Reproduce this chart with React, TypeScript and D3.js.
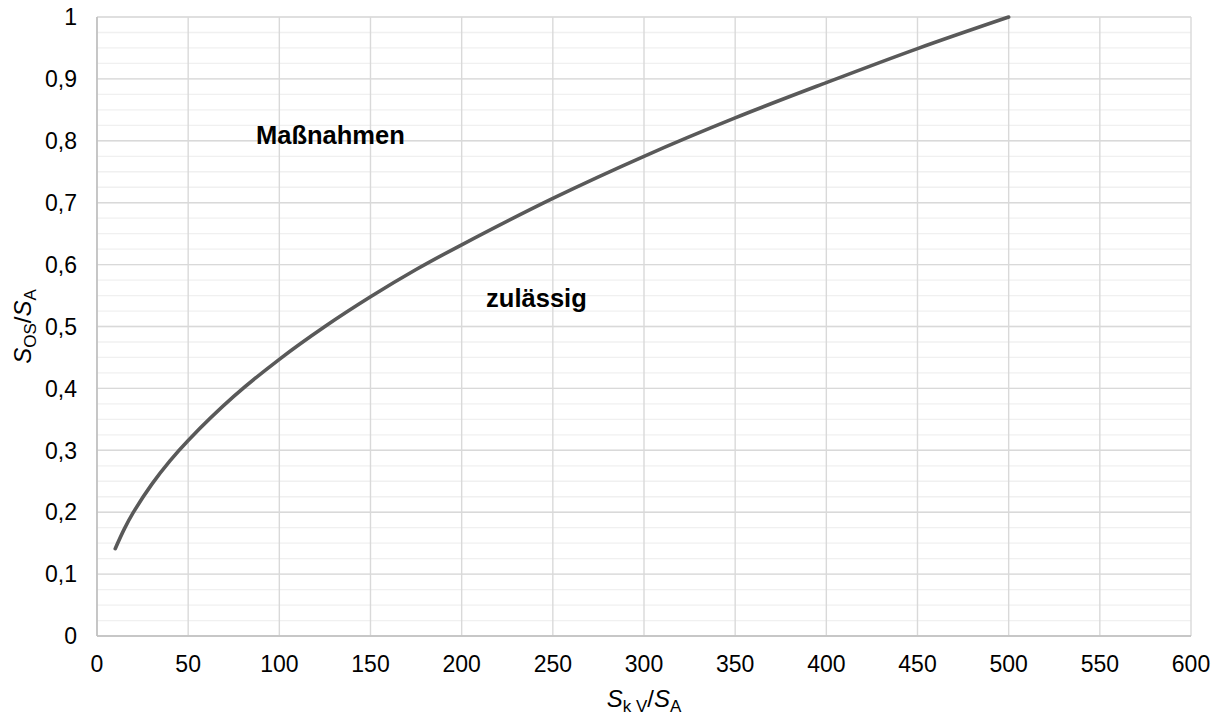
import React from "react";
import * as d3 from "d3";

const curveX = [10, 15, 20, 30, 40, 50, 75, 100, 125, 150, 175, 200, 250, 300, 350, 400, 450, 500];
const curveY = [0.141, 0.173, 0.2, 0.245, 0.283, 0.316, 0.387, 0.447, 0.5, 0.548, 0.592, 0.632, 0.707, 0.775, 0.837, 0.894, 0.949, 1.0];
const xTicks = [0, 50, 100, 150, 200, 250, 300, 350, 400, 450, 500, 550, 600];
const yTicks = [0, 0.1, 0.2, 0.3, 0.4, 0.5, 0.6, 0.7, 0.8, 0.9, 1];
const yMinorTicks = d3.range(0, 1.0001, 0.025);
const regionLabels = [
  { text: "Maßnahmen", x: 128, y: 0.795 },
  { text: "zulässig", x: 241, y: 0.531 },
];

const W = 1224, H = 720;
const left = 97, right = 1191, top = 17, bottom = 636;
const FONT = "'Liberation Sans', Arial, sans-serif";

export default function App() {
  const x = d3.scaleLinear().domain([0, 600]).range([left, right]);
  const y = d3.scaleLinear().domain([0, 1]).range([bottom, top]);
  const pts: [number, number][] = curveX.map((v, i) => [v, curveY[i]]);
  const line = d3.line<[number, number]>().x(d => x(d[0])).y(d => y(d[1])).curve(d3.curveCatmullRom);
  const fmt = (v: number) => String(Math.round(v * 10) / 10).replace(".", ",");
  return (
    <svg width={W} height={H} style={{ position: "absolute", left: 0, top: 0, background: "#fff" }} fontFamily={FONT}>
      <rect width={W} height={H} fill="#fff" />
      {yMinorTicks.map((t, i) => (
        <line key={"m" + i} x1={left} x2={right} y1={y(t)} y2={y(t)} stroke="#f0f0f0" strokeWidth={1.3} />
      ))}
      {yTicks.map((t, i) => (
        <line key={"y" + i} x1={left} x2={right} y1={y(t)} y2={y(t)} stroke="#d9d9d9" strokeWidth={1.4} />
      ))}
      {xTicks.map((t, i) => (
        <line key={"x" + i} x1={x(t)} x2={x(t)} y1={top} y2={bottom} stroke="#d9d9d9" strokeWidth={1.4} />
      ))}
      <line x1={left} x2={left} y1={top} y2={bottom} stroke="#bfbfbf" strokeWidth={1.6} />
      <line x1={left} x2={right} y1={bottom} y2={bottom} stroke="#bfbfbf" strokeWidth={1.6} />
      <path d={line(pts) || ""} fill="none" stroke="#595959" strokeWidth={3.6} strokeLinecap="round" />
      {yTicks.map((t, i) => (
        <text key={"yl" + i} x={77} y={y(t)} dy="0.36em" textAnchor="end" fontSize={23} fill="#000">{fmt(t)}</text>
      ))}
      {xTicks.map((t, i) => (
        <text key={"xl" + i} x={x(t)} y={672} textAnchor="middle" fontSize={23} fill="#000">{t}</text>
      ))}
      {regionLabels.map((l, i) => (
        <text key={"r" + i} x={x(l.x)} y={y(l.y)} textAnchor="middle" fontSize={25.5} fontWeight="bold" fill="#000">{l.text}</text>
      ))}
      <text x={(left + right) / 2} y={707} textAnchor="middle" fontSize={24} fill="#000">
        <tspan fontStyle="italic">S</tspan>
        <tspan fontSize={17} dy={5}>k V</tspan>
        <tspan dy={-5}>/</tspan>
        <tspan fontStyle="italic">S</tspan>
        <tspan fontSize={17} dy={5}>A</tspan>
      </text>
      <text transform={`translate(31,${(top + bottom) / 2}) rotate(-90)`} textAnchor="middle" fontSize={24} fill="#000">
        <tspan fontStyle="italic">S</tspan>
        <tspan fontSize={17} dy={5}>OS</tspan>
        <tspan dy={-5}>/</tspan>
        <tspan fontStyle="italic">S</tspan>
        <tspan fontSize={17} dy={5}>A</tspan>
      </text>
    </svg>
  );
}
